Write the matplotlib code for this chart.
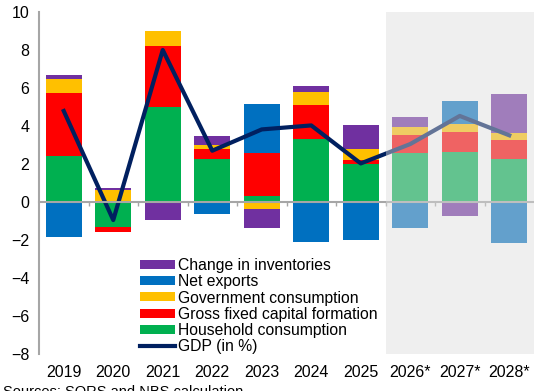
import matplotlib
matplotlib.use('Agg')
import matplotlib.pyplot as plt
import numpy as np

plt.rcParams['font.family'] = ['Liberation Sans', 'DejaVu Sans']

# contributions to GDP growth, percentage points
years = ['2019', '2020', '2021', '2022', '2023', '2024', '2025', '2026*', '2027*', '2028*']
household = [2.44, -1.30, 4.98, 2.28, 0.32, 3.30, 2.02, 2.56, 2.65, 2.28]
gfcf = [3.31, -0.30, 3.23, 0.49, 2.24, 1.80, 0.21, 0.98, 1.05, 1.00]
government = [0.71, 0.63, 0.79, 0.21, -0.39, 0.71, 0.56, 0.42, 0.42, 0.35]
net_exports = [-1.86, 0.0, 0.0, -0.65, 2.61, -2.09, -2.02, -1.37, 1.20, -2.14]
inventories = [0.21, 0.09, -0.95, 0.51, -1.00, 0.29, 1.26, 0.51, -0.74, 2.04]
gdp = [4.79, -0.95, 8.0, 2.7, 3.82, 4.03, 2.03, 3.05, 4.53, 3.51]
n_forecast = 3

series = [
    ('Household consumption', household, '#00b050'),
    ('Gross fixed capital formation', gfcf, '#ff0000'),
    ('Government consumption', government, '#ffc000'),
    ('Net exports', net_exports, '#0070c0'),
    ('Change in inventories', inventories, '#7030a0'),
]

fig = plt.figure(figsize=(5.34, 3.91), dpi=100)
ax = fig.add_axes([39/534, 37/391, 495/534, 342/391])

x = np.arange(len(years))
pos_base = np.zeros(len(years))
neg_base = np.zeros(len(years))
handles = {}
for name, vals, col in series:
    v = np.array(vals)
    base = np.where(v >= 0, pos_base, neg_base)
    b = ax.bar(x, v, 0.72, bottom=base, color=col, label=name, zorder=2)
    handles[name] = b
    pos_base += np.where(v >= 0, v, 0)
    neg_base += np.where(v < 0, v, 0)

line, = ax.plot(x, gdp, color='#002060', lw=3, label='GDP (in %)', zorder=3)

# forecast years are greyed out
ax.axvspan(len(years) - n_forecast - 0.5, len(years) - 0.5, color='#dcdcdc',
           alpha=0.45, lw=0, zorder=4)

ax.set_xlim(-0.5, len(years) - 0.5)
ax.set_ylim(-8, 10)
ax.set_yticks(np.arange(-8, 11, 2))
ax.set_xticks(x, years)
ax.tick_params(axis='y', length=0, labelsize=11.5, pad=7)
ax.tick_params(axis='x', length=0, labelsize=11.5, pad=8)
for s in ['top', 'right', 'bottom']:
    ax.spines[s].set_visible(False)
ax.spines['left'].set_color('#a6a6a6')
ax.spines['left'].set_linewidth(1.5)

# zero line with category separators
zero = ax.secondary_xaxis(8/18)
zero.set_xticks(np.arange(0.5, len(years) - 1, 1.0), [''] * (len(years) - 1))
zero.tick_params(axis='x', direction='out', length=3, color='#a6a6a6', width=1)
zero.spines['bottom'].set_color('#a6a6a6')
zero.spines['bottom'].set_linewidth(1.5)
zero.set_zorder(3)

order = ['Change in inventories', 'Net exports', 'Government consumption',
         'Gross fixed capital formation', 'Household consumption']
leg = ax.legend([handles[k] for k in order] + [line], order + ['GDP (in %)'],
                loc='upper left', bbox_to_anchor=(140/534, 1 - 258/391),
                bbox_transform=fig.transFigure, frameon=False, fontsize=11.3,
                handlelength=2.2, handleheight=0.5, handletextpad=0.25,
                labelspacing=0.08, borderaxespad=0, borderpad=0)
leg.set_zorder(5)

fig.text(0.006, 1 - 385/391, 'Sources: SORS and NBS calculation', fontsize=10.5,
         va='top', ha='left')

fig.savefig('out.png', dpi=100)
